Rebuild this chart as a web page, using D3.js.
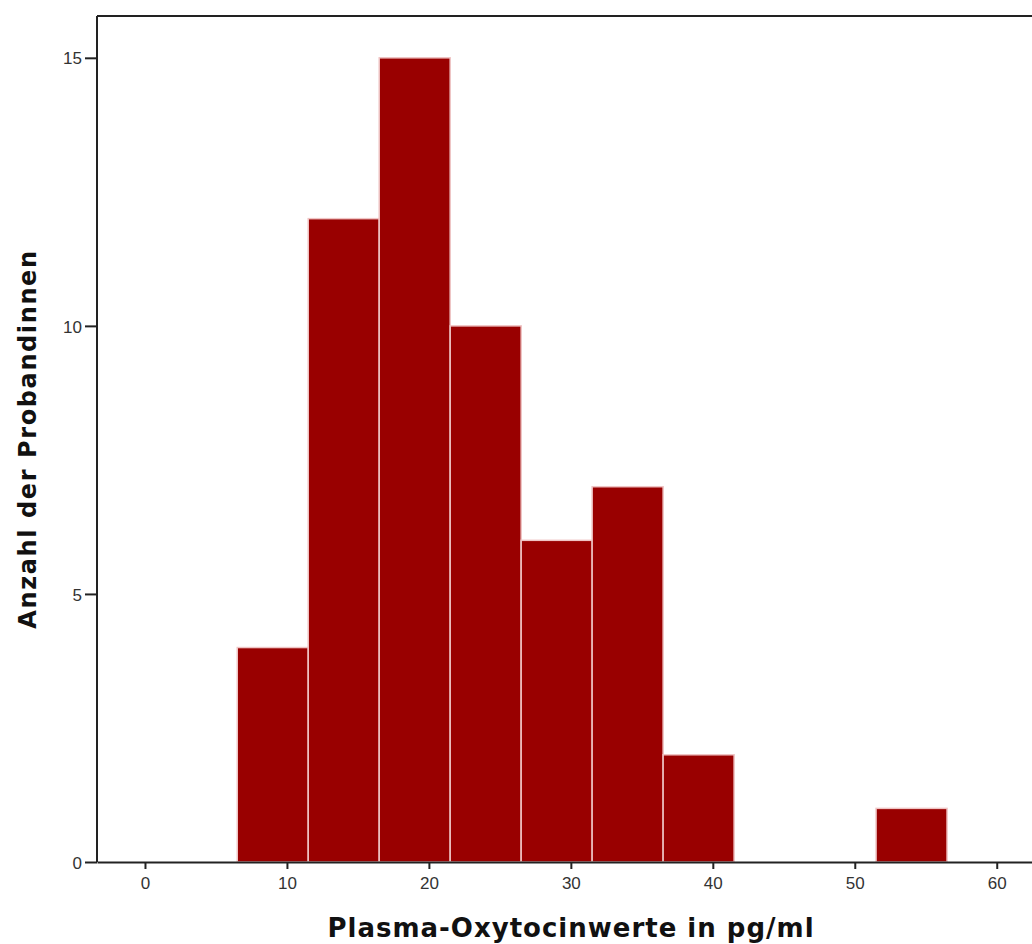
<!DOCTYPE html>
<html>
<head>
<meta charset="utf-8">
<script src="https://cdn.jsdelivr.net/npm/d3@7"></script>
<style>
  body { margin: 0; background: #fff; }
</style>
</head>
<body>
<div id="chart"></div>
<script>
// histogram bins (pg/ml) and counts
var binStart = [6.5, 11.5, 16.5, 21.5, 26.5, 31.5, 36.5, 41.5, 46.5, 51.5];
var binEnd   = [11.5, 16.5, 21.5, 26.5, 31.5, 36.5, 41.5, 46.5, 51.5, 56.5];
var counts   = [4, 12, 15, 10, 6, 7, 2, 0, 0, 1];
var xTicks = [0, 10, 20, 30, 40, 50, 60];
var yTicks = [0, 5, 10, 15];

var width = 1032;
var height = 944;
var padLeft = 97, padTop = 16, plotRight = 1045, plotBottom = 862;

var svg = d3.select("#chart")
  .append("svg")
  .attr("width", width)
  .attr("height", height);

var xScale = d3.scaleLinear()
  .domain([-3.38, 63.4])
  .range([padLeft, plotRight]);

var yScale = d3.scaleLinear()
  .domain([0, 15.78])
  .range([plotBottom, padTop]);

// top frame line
svg.append("path")
  .attr("d", "M" + padLeft + "," + padTop + "H" + plotRight)
  .attr("stroke", "#222")
  .attr("stroke-width", 2)
  .attr("fill", "none");

// bars
var bars = counts.map(function(c, i) { return { c: c, x0: binStart[i], x1: binEnd[i] }; })
  .filter(function(d) { return d.c > 0; });

svg.selectAll("rect.bar")
  .data(bars)
  .enter()
  .append("rect")
  .attr("class", "bar")
  .attr("x", function(d) { return xScale(d.x0); })
  .attr("y", function(d) { return yScale(d.c); })
  .attr("width", function(d) { return xScale(d.x1) - xScale(d.x0); })
  .attr("height", function(d) { return yScale(0) - yScale(d.c); })
  .attr("fill", "#990000")
  .attr("stroke", "#efc4c4")
  .attr("stroke-width", 1.5);

// axes
var xAxis = d3.axisBottom(xScale).tickValues(xTicks).tickSize(7).tickPadding(8).tickSizeOuter(0);
var yAxis = d3.axisLeft(yScale).tickValues(yTicks).tickSize(12).tickPadding(3).tickSizeOuter(0);

var gx = svg.append("g")
  .attr("transform", "translate(0," + plotBottom + ")")
  .call(xAxis);
gx.select(".domain").attr("stroke", "#222").attr("stroke-width", 2);
gx.selectAll(".tick line").attr("stroke", "#222").attr("stroke-width", 2);

var gy = svg.append("g")
  .attr("transform", "translate(" + padLeft + ",0)")
  .call(yAxis);
gy.select(".domain").attr("stroke", "#222").attr("stroke-width", 2)
  .attr("d", "M0," + plotBottom + "V" + padTop);
gy.selectAll(".tick line").attr("stroke", "#222").attr("stroke-width", 2);
gy.selectAll(".tick text").attr("dy", "0.36em");

svg.selectAll(".tick text")
  .attr("font-family", "Liberation Sans, Arial, sans-serif")
  .attr("font-size", 17)
  .attr("fill", "#333");

// titles
svg.append("text")
  .attr("x", 571)
  .attr("y", 937)
  .attr("text-anchor", "middle")
  .attr("font-family", "DejaVu Sans, sans-serif")
  .attr("font-weight", "bold")
  .attr("font-size", 26)
  .attr("letter-spacing", 1)
  .attr("fill", "#111")
  .text("Plasma-Oxytocinwerte in pg/ml");

svg.append("text")
  .attr("transform", "translate(36,439)rotate(-90)")
  .attr("text-anchor", "middle")
  .attr("font-family", "DejaVu Sans, sans-serif")
  .attr("font-weight", "bold")
  .attr("font-size", 24)
  .attr("letter-spacing", 1.6)
  .attr("fill", "#111")
  .text("Anzahl der Probandinnen");
</script>
</body>
</html>
